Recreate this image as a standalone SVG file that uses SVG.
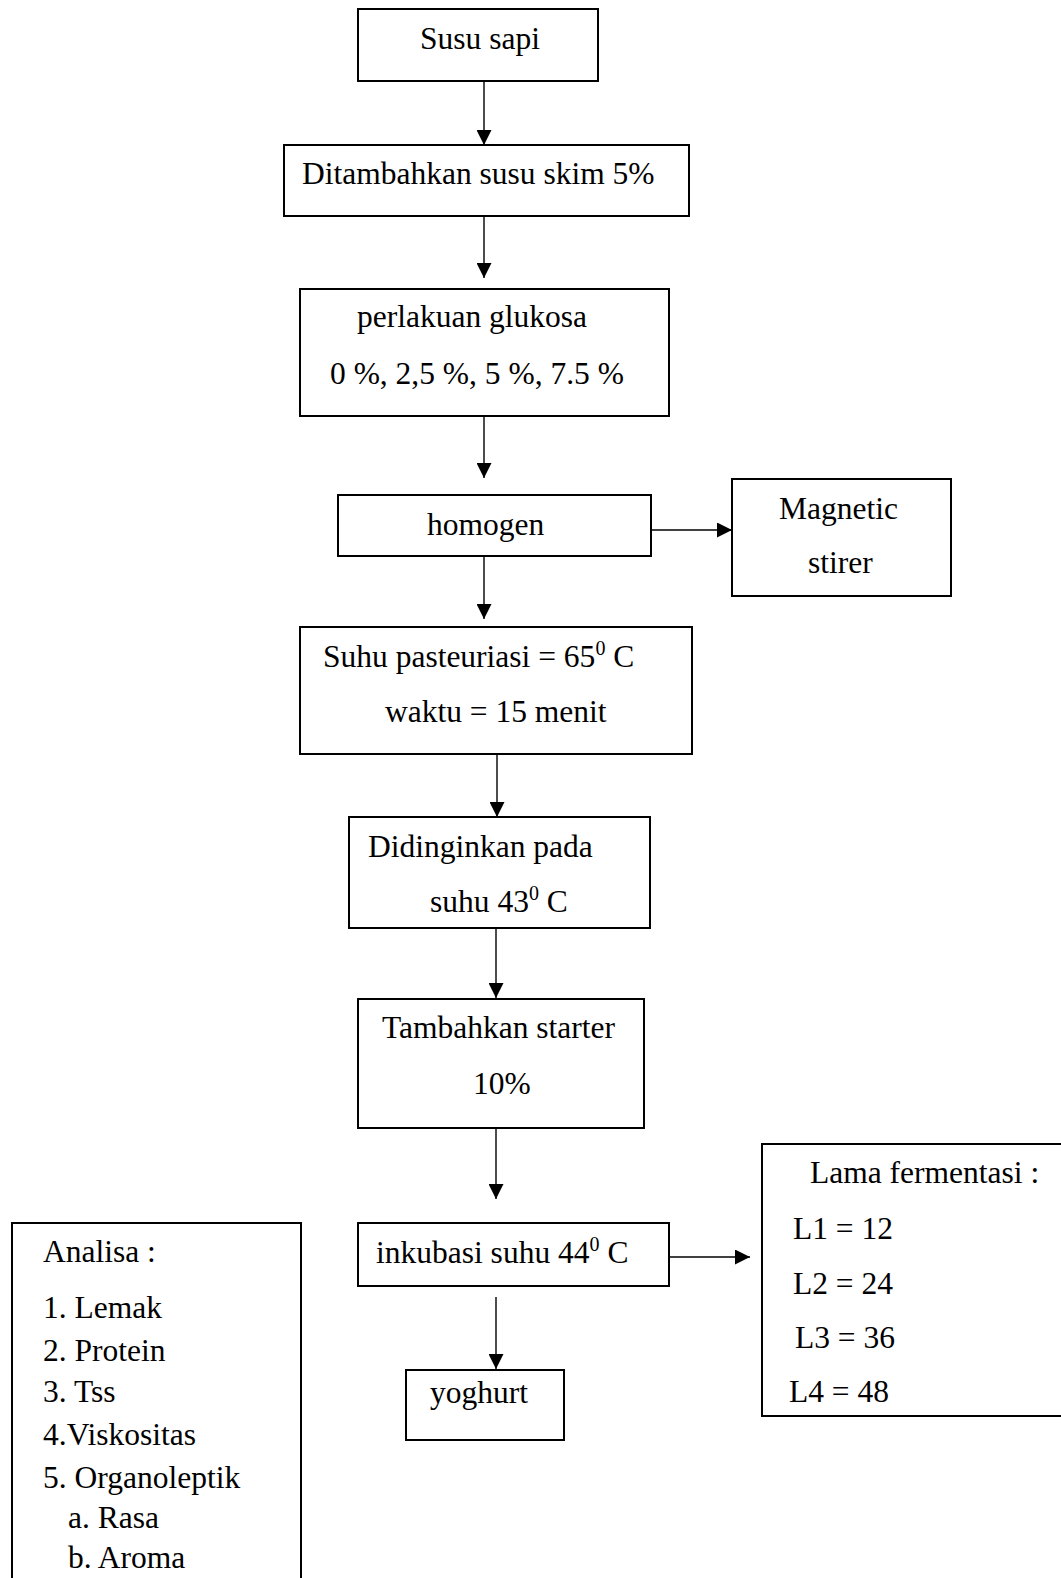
<svg xmlns="http://www.w3.org/2000/svg" width="1061" height="1578" viewBox="0 0 1061 1578">
<style>
  .box { fill: none; stroke: #000; stroke-width: 2; }
  .t { font-family: "Liberation Serif", "Times New Roman", serif; font-size: 31.5px; fill: #000; }
  .sup { font-size: 20px; }
  .conn { stroke: #000; stroke-width: 1.4; fill: none; marker-end: url(#ah); }
</style>
<defs>
  <marker id="ah" markerUnits="userSpaceOnUse" markerWidth="15" markerHeight="15" viewBox="0 0 15 15" refX="15" refY="7.5" orient="auto">
    <path d="M0,0 L15,7.5 L0,15 Z" fill="#000"/>
  </marker>
</defs>
<rect width="1061" height="1578" fill="#fff"/>

<g id="connectors">
  <line class="conn" x1="484" y1="81" x2="484" y2="145"/>
  <line class="conn" x1="484" y1="216" x2="484" y2="278"/>
  <line class="conn" x1="484" y1="416" x2="484" y2="478"/>
  <line class="conn" x1="484" y1="556" x2="484" y2="619"/>
  <line class="conn" x1="651" y1="530" x2="732" y2="530"/>
  <line class="conn" x1="497" y1="754" x2="497" y2="817"/>
  <line class="conn" x1="496" y1="928" x2="496" y2="998"/>
  <line class="conn" x1="496" y1="1128" x2="496" y2="1199"/>
  <line class="conn" x1="496" y1="1297" x2="496" y2="1369"/>
  <line class="conn" x1="669" y1="1257" x2="750" y2="1257"/>
</g>

<g id="susu-sapi">
  <rect class="box" x="358" y="9" width="240" height="72"/>
  <text class="t" x="420" y="49">Susu sapi</text>
</g>

<g id="ditambahkan">
  <rect class="box" x="284" y="145" width="405" height="71"/>
  <text class="t" x="302" y="184">Ditambahkan susu skim 5%</text>
</g>

<g id="perlakuan">
  <rect class="box" x="300" y="289" width="369" height="127"/>
  <text class="t" x="357" y="327">perlakuan glukosa</text>
  <text class="t" x="330" y="384">0 %, 2,5 %, 5 %, 7.5 %</text>
</g>

<g id="homogen">
  <rect class="box" x="338" y="495" width="313" height="61"/>
  <text class="t" x="427" y="535">homogen</text>
</g>

<g id="magnetic-stirer">
  <rect class="box" x="732" y="479" width="219" height="117"/>
  <text class="t" x="779" y="519">Magnetic</text>
  <text class="t" x="808" y="573">stirer</text>
</g>

<g id="pasteurisasi">
  <rect class="box" x="300" y="627" width="392" height="127"/>
  <text class="t" x="323" y="667">Suhu pasteuriasi = 65<tspan class="sup" dy="-12">0</tspan><tspan dy="12"> C</tspan></text>
  <text class="t" x="385" y="722">waktu = 15 menit</text>
</g>

<g id="didinginkan">
  <rect class="box" x="349" y="817" width="301" height="111"/>
  <text class="t" x="368" y="857">Didinginkan pada</text>
  <text class="t" x="430" y="912">suhu 43<tspan class="sup" dy="-12">0</tspan><tspan dy="12"> C</tspan></text>
</g>

<g id="starter">
  <rect class="box" x="358" y="999" width="286" height="129"/>
  <text class="t" x="382" y="1038">Tambahkan starter</text>
  <text class="t" x="473" y="1094">10%</text>
</g>

<g id="inkubasi">
  <rect class="box" x="358" y="1223" width="311" height="63"/>
  <text class="t" x="376" y="1263">inkubasi suhu 44<tspan class="sup" dy="-12">0</tspan><tspan dy="12"> C</tspan></text>
</g>

<g id="yoghurt">
  <rect class="box" x="406" y="1370" width="158" height="70"/>
  <text class="t" x="430" y="1403">yoghurt</text>
</g>

<g id="lama-fermentasi">
  <path class="box" d="M1062,1144 H762 V1416 H1062"/>
  <text class="t" x="810" y="1183">Lama fermentasi :</text>
  <text class="t" x="793" y="1239">L1 = 12</text>
  <text class="t" x="793" y="1294">L2 = 24</text>
  <text class="t" x="795" y="1348">L3 = 36</text>
  <text class="t" x="789" y="1402">L4 = 48</text>
</g>

<g id="analisa">
  <path class="box" d="M12,1579 V1223 H301 V1579"/>
  <text class="t" x="43" y="1262">Analisa :</text>
  <text class="t" x="43" y="1318">1. Lemak</text>
  <text class="t" x="43" y="1361">2. Protein</text>
  <text class="t" x="43" y="1402">3. Tss</text>
  <text class="t" x="43" y="1445">4.Viskositas</text>
  <text class="t" x="43" y="1488">5. Organoleptik</text>
  <text class="t" x="68" y="1528">a.  Rasa</text>
  <text class="t" x="68" y="1568">b. Aroma</text>
</g>
</svg>
